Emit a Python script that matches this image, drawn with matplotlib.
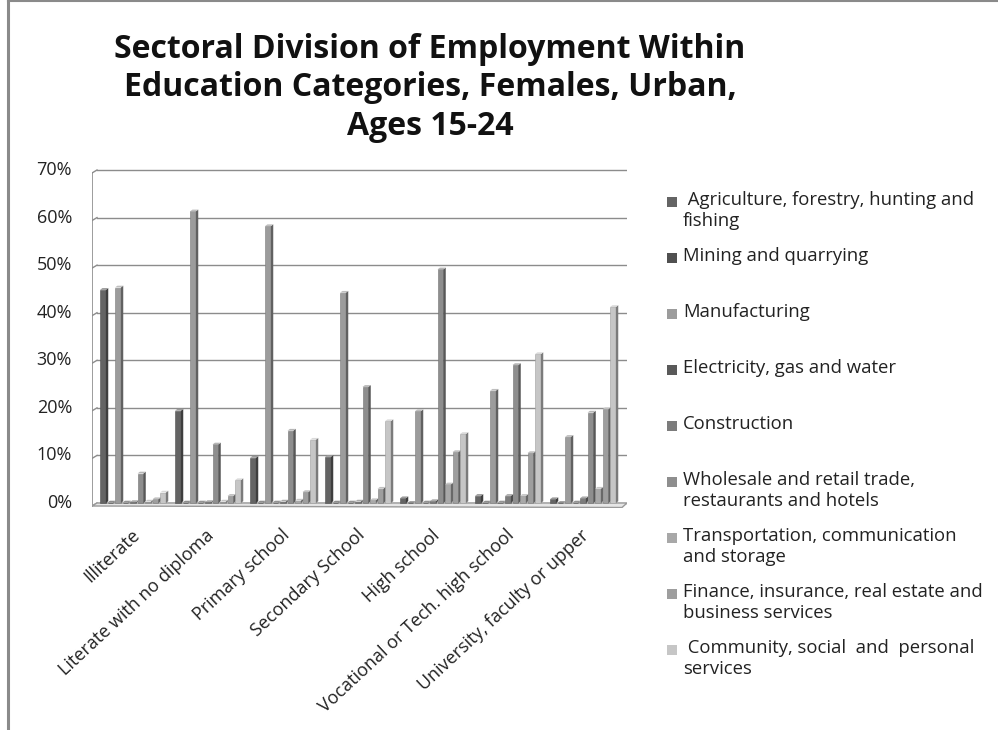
import matplotlib
matplotlib.use("Agg")
import matplotlib.pyplot as plt
from matplotlib.patches import Polygon, Rectangle
from matplotlib.lines import Line2D
import numpy as np

# ---- data ----
categories = [
    "Illiterate",
    "Literate with no diploma",
    "Primary school",
    "Secondary School",
    "High school",
    "Vocational or Tech. high school",
    "University, faculty or upper",
]
series_names = [
    " Agriculture, forestry, hunting and\nfishing",
    "Mining and quarrying",
    "Manufacturing",
    "Electricity, gas and water",
    "Construction",
    "Wholesale and retail trade,\nrestaurants and hotels",
    "Transportation, communication\nand storage",
    "Finance, insurance, real estate and\nbusiness services",
    " Community, social  and  personal\nservices",
]
agriculture = [44.8, 19.4, 9.5, 9.7, 1.0, 1.5, 0.8]
mining = [0.1, 0.1, 0.1, 0.1, 0.0, 0.1, 0.0]
manufacturing = [45.3, 61.3, 58.2, 44.2, 19.3, 23.6, 13.9]
electricity = [0.1, 0.1, 0.1, 0.1, 0.1, 0.1, 0.1]
construction = [0.2, 0.2, 0.3, 0.3, 0.4, 1.5, 1.0]
wholesale = [6.2, 12.3, 15.2, 24.4, 49.1, 29.0, 19.0]
transport = [0.3, 0.3, 0.5, 0.6, 3.9, 1.5, 3.0]
finance = [0.8, 1.5, 2.3, 3.0, 10.7, 10.5, 19.7]
community = [2.2, 4.8, 13.3, 17.2, 14.5, 31.3, 41.2]
yticks = [0, 10, 20, 30, 40, 50, 60, 70]

series = [agriculture, mining, manufacturing, electricity, construction,
          wholesale, transport, finance, community]
colors = ["#646464", "#505050", "#9c9c9c", "#595959", "#7c7c7c",
          "#8e8e8e", "#a8a8a8", "#9e9e9e", "#c6c6c6"]


def shade(hex_color, f):
    c = np.array(matplotlib.colors.to_rgb(hex_color))
    if f < 1:
        c = c * f
    else:
        c = c + (1 - c) * (f - 1)
    return np.clip(c, 0, 1)


W, H = 998, 730
fig = plt.figure(figsize=(W / 100, H / 100), dpi=100)
fig.patch.set_facecolor("white")

# outer frame (left and top edges)
fig.add_artist(Line2D([7.5 / W, 7.5 / W], [0, 1], color="#8a8a8a", lw=2.2))
fig.add_artist(Line2D([7.5 / W, 1], [1 - 1 / H, 1 - 1 / H], color="#8a8a8a", lw=1.5))

# title
fig.text(430 / W, 1 - 88 / H,
         "Sectoral Division of Employment Within\nEducation Categories, Females, Urban,\nAges 15-24",
         ha="center", va="center", fontsize=23, fontweight="bold",
         family=["Open Sans", "DejaVu Sans"], linespacing=1.22, color="#111111")

# plot area
ax_left, ax_right = 92, 627
ax_top, ax_bottom = 168, 508
ax = fig.add_axes([ax_left / W, 1 - ax_bottom / H,
                   (ax_right - ax_left) / W, (ax_bottom - ax_top) / H])
px_per_pct = 333 / 70.0
ymin = -5 / px_per_pct
ymax = 70 + 2 / px_per_pct
group_px = 75.0
xmin = -41 / group_px
xmax = xmin + (ax_right - ax_left) / group_px
ax.set_xlim(xmin, xmax)
ax.set_ylim(ymin, ymax)
ax.axis("off")

# back wall grid lines with small perspective corner
dx_wall = 5 / group_px
dy_wall = 3 / px_per_pct
for t in yticks:
    ax.plot([xmin + dx_wall, xmax], [t, t], color="#8c8c8c", lw=1.0, zorder=1)
    ax.plot([xmin, xmin + dx_wall], [t - dy_wall, t], color="#8c8c8c", lw=1.0, zorder=1)
ax.plot([xmin, xmin], [0 - dy_wall, 70 - dy_wall], color="#8c8c8c", lw=1.2, zorder=1)
# floor
floor = Polygon([[xmin, -dy_wall], [xmin + dx_wall, 0], [xmax, 0],
                 [xmax - dx_wall, -dy_wall - 1.5 / px_per_pct]],
                closed=True, facecolor="#e6e6e6", edgecolor="#9a9a9a", lw=1.0, zorder=1)
ax.add_patch(floor)

# 3D-style clustered bars
step = 0.1
front_w = 0.078
depth_x = 2.4 / group_px
depth_y = 1.8 / px_per_pct
x = np.arange(len(categories))
for j, (vals, col) in enumerate(zip(series, colors)):
    lefts = x - 0.44 + step * j
    ax.bar(lefts, vals, width=front_w, align="edge", bottom=0,
           color=col, edgecolor=shade(col, 0.8), lw=0.4, zorder=3)
    for xl, v in zip(lefts, vals):
        xr = xl + front_w
        side = Polygon([[xr, 0], [xr + depth_x, depth_y],
                        [xr + depth_x, v + depth_y], [xr, v]],
                       closed=True, facecolor=shade(col, 0.62), lw=0, zorder=3)
        top = Polygon([[xl, v], [xl + depth_x, v + depth_y],
                       [xr + depth_x, v + depth_y], [xr, v]],
                      closed=True, facecolor=shade(col, 1.35), lw=0, zorder=3)
        ax.add_patch(side)
        ax.add_patch(top)

# y tick labels
tick_font = ["Open Sans", "DejaVu Sans"]
for t in yticks:
    ax.text(xmin - 20 / group_px, t, f"{t}%", ha="right", va="center",
            fontsize=13, family=tick_font, color="#222222")

# x tick labels
for i, name in enumerate(categories):
    ax.text(i - 0.03, ymin - 18 / px_per_pct, name, rotation=43,
            ha="right", va="top", rotation_mode="anchor",
            fontsize=13, family=tick_font, color="#222222")

# legend
leg_y0 = 202
leg_step = 56
for k, (name, col) in enumerate(zip(series_names, colors)):
    yc = leg_y0 + leg_step * k
    fig.add_artist(Rectangle((667 / W, 1 - (yc + 5) / H), 10 / W, 10 / H,
                             facecolor=col, edgecolor="none",
                             transform=fig.transFigure))
    fig.text(683 / W, 1 - (yc - 11) / H, name, ha="left", va="top",
             fontsize=13.3, family=tick_font, color="#222222", linespacing=1.22)

fig.savefig("out.png", dpi=100)
